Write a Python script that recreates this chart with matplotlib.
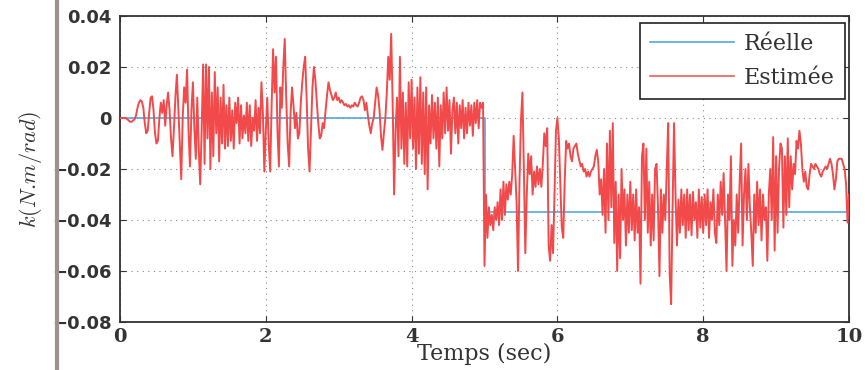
import numpy as np
import matplotlib
matplotlib.use("Agg")
import matplotlib.pyplot as plt
from matplotlib.lines import Line2D

plt.rcParams['mathtext.fontset'] = 'cm'

# ---- data (values in 1e-3 N.m/rad, sampled every 0.02 s from 0 to 10 s) ----
dt = 0.02
estimee_milli = [
    0, 0, 0, 0, 0, -0.5, -1, -1.5, -1.5, -1, -0.5, 1, 4, 6, 7, 6.5, 4, -2, -6, -5, 2, 8, 8.5, 3, -6,
    -10, -9, 0, 6, 2, 7, -3, 5, 10, 3, -8, -15, -4, 8, 17, 4, -10, -24, 0, 12, 6, 19, -5, -19, 3,
    14, -4, -16, 8, -12, -26, -5, 21, -18, 21, -8, 20, -20, 10, -15, 18, -6, 12, -17, 8, -10, 13, -12, 5, -11,
    8, -9, 3, -12, 6, -2, 8, -10, 5, -8, 1, -6, 6, -9, 5, -11, 0, -5, 7, -9, 4, -6, 14, 2, -21,
    -5, 8, -10, -21, 5, 27, 10, 24, -5, -19, 12, 4, 20, 31, 8, -10, -19, 2, 12, 5, -4, 2, -8, -6, 6,
    14, 20, 24, 8, -12, -21, -4, 12, 20, 15, 6, -2, -8, -7, -2, -4, 3, 9, 14, 11, 9, 7, 8, 10, 7,
    8, 6, 7, 6, 5, 5.5, 4.5, 5, 4, 5, 4.5, 6, 5, 4.5, 6, 8, 8.5, 7, 3, 6, 1, -3, -6, -2, 0,
    6, 12, 9, 3, -7, -12.5, -6, 0, 10, 24, 15, 33, 6, -30, -5, 8, -15, 24, -12, 10, -18, 6, -19, 14, -8,
    15, -12, 8, -20, 12, -14, 16, -18, 10, -22, 12, -28, 5, -10, 9, -8, 6, -12, 8, -19, 5, -8, 10, -6, 12,
    -5, 7, -14, 3, 8, -6, 6, -10, 5, -4, 7, -8, 4, -6, 6, -3, 5, -7, 6, -2, 7, -4, 6, 4, 6,
    -58, -30, -47, -35, -42, -38, -44, -35, -40, -33, -42, -28, -40, -25, -38, -26, -32, -25, -30, -22, -7, -20, -33, -60, -25,
    -1, 10, -20, -53, -30, -14, -22, -15, -30, -21, -27, -19, -26, -20, -27, -18, -6, -11, -4, -50, -56, -42, -53, -30, -5,
    0, -8, -25, -43, -47, -25, -9, -12, -10, -15, -17, -12, -11, -10, -14, -16.5, -19, -18, -21, -20, -23, -21, -23, -21, -20,
    -19, -15, -12.5, -17, -30, -24, -38, -20, -45, -10, -40, -5, -35, -2, -49, -25, -60, -30, -55, -20, -40, -28, -50, -30, -45,
    -25, -44, -30, -48, -28, -45, -35, -65, -15, -10, -40, -12, -45, -25, -50, -30, -48, -20, -18, -35, -62, -28, -45, -30, -40,
    -20, -2, -61, -73, -35, -2, -30, -50, -32, -45, -28, -42, -30, -47, -28, -44, -30, -46, -29, -40, -33, -47, -28, -43, -31,
    -45, -30, -42, -28, -47, -33, -40, -28, -45, -49, -30, -42, -25, -38, -21.6, -40, -60, -30, -40, -15, -58, -40, -50, -30, -45,
    -25, -10, -50, -30, -20, -40, -18, -35, -45, -58, -30, -45, -25, -42, -28, -48, -30, -40, -35, -56, -30, -20, -40, -7.5, -52,
    -15, -45, -20, -10, -12, -43, -15, -38, -8, -35, -15, -28, -18, -22, -9, -12, -5, -10, -20, -25, -21, -27, -28, -22, -18,
    -19, -20, -18, -19, -20, -22, -23, -21, -20, -19, -20, -18, -16, -18, -22, -28, -24, -17, -16, -16, -16, -18, -20, -26, -41,
    -30,
]
reelle_t = [0, 5, 5, 10]
reelle_k = [0.0, 0.0, -0.037, -0.037]

x_ticks = [0, 2, 4, 6, 8, 10]
y_ticks = [-0.08, -0.06, -0.04, -0.02, 0, 0.02, 0.04]
y_tick_labels = ['\u22120.08', '\u22120.06', '\u22120.04', '\u22120.02', '0', '0.02', '0.04']
legend_labels = ['Réelle', 'Estimée']

t_est = np.arange(len(estimee_milli)) * dt
k_est = np.array(estimee_milli) * 1e-3

# ---- figure ----
fig = plt.figure(figsize=(8.65, 3.70), dpi=100)
ax = fig.add_axes([120/865, 1-322/370, 729/865, 306/370])

red = '#f24a4a'
blue = '#45a0dc'
l_re, = ax.plot(reelle_t, reelle_k, color=blue, lw=1.1, zorder=2)
l_est, = ax.plot(t_est, k_est, color=red, lw=1.4, zorder=3)

ax.set_xlim(0, 10)
ax.set_ylim(-0.08, 0.04)
ax.set_xticks(x_ticks)
ax.set_xticklabels([str(v) for v in x_ticks], fontfamily='DejaVu Serif', fontsize=14,
                   fontweight='bold', color='#3a3a3a')
ax.set_yticks(y_ticks)
ax.set_yticklabels(y_tick_labels, fontfamily='DejaVu Sans', fontweight='bold', fontsize=13, color='#3a3a3a')
ax.tick_params(direction='in', length=4, width=0.8, top=True, right=True, colors='#333333')
ax.tick_params(axis='x', pad=4)
ax.tick_params(axis='y', pad=6)
ax.grid(True, linestyle=(0, (1, 4)), color='#888888', linewidth=0.8)
for s in ax.spines.values():
    s.set_linewidth(1.3)
    s.set_color('#333333')

ax.set_xlabel('Temps (sec)', fontfamily='DejaVu Serif', fontsize=16, color='#333333', labelpad=-2)
ax.set_ylabel(r'$k(N.\!m/rad)$', fontsize=16, color='#333333', labelpad=6)

leg = ax.legend([l_re, l_est], legend_labels, loc='upper right', bbox_to_anchor=(0.9945, 0.978),
                borderaxespad=0, fancybox=False, framealpha=1, edgecolor='#222222',
                prop={'family': 'DejaVu Serif', 'size': 16}, handlelength=3.8, handletextpad=0.45,
                borderpad=0.45, labelspacing=0.55)
leg.get_frame().set_linewidth(1.2)
leg.set_zorder(5)
for line in leg.get_lines():
    line.set_linewidth(1.1)
for txt in leg.get_texts():
    txt.set_color('#333333')

# scan page edge
fig.add_artist(Line2D([57/865, 57/865], [0, 1], transform=fig.transFigure, color='#9c918e', lw=3))

fig.savefig('out.png', dpi=100)
